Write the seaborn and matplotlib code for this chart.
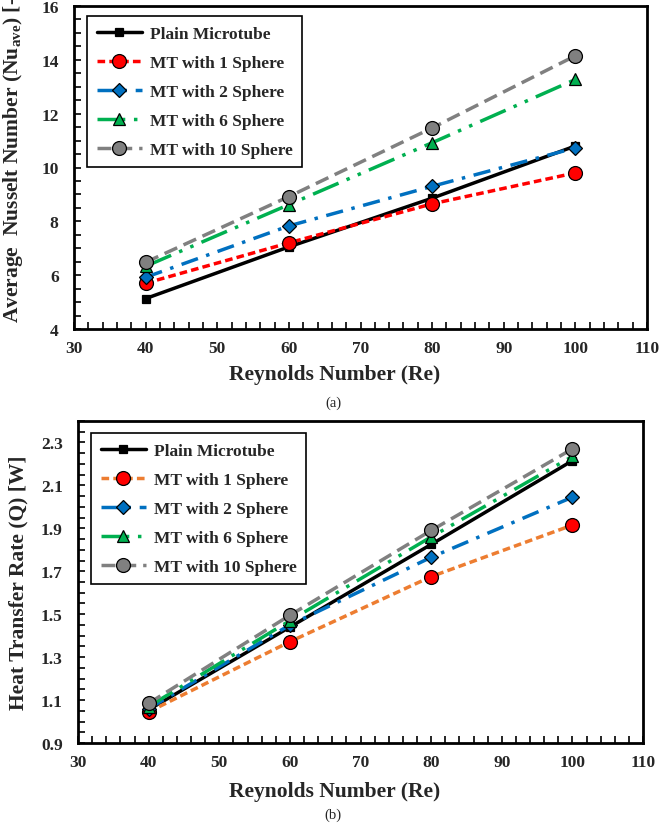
import matplotlib
matplotlib.use("Agg")
import matplotlib.pyplot as plt
from matplotlib.ticker import MultipleLocator
import seaborn as sns
import pandas as pd

sns.set_style("white")
plt.rcParams['font.family'] = ['Liberation Serif', 'DejaVu Serif']
plt.rcParams['mathtext.fontset'] = 'custom'
plt.rcParams['mathtext.rm'] = 'Liberation Serif'
plt.rcParams['mathtext.bf'] = 'Liberation Serif:bold'

reynolds = [40, 60, 80, 100]
series_names = ["Plain Microtube", "MT with 1 Sphere", "MT with 2 Sphere",
                "MT with 6 Sphere", "MT with 10 Sphere"]

nu_plain = [5.13, 7.05, 8.86, 10.80]
nu_1sph = [5.70, 7.20, 8.65, 9.80]
nu_2sph = [5.92, 7.83, 9.30, 10.73]
nu_6sph = [6.33, 8.62, 10.92, 13.27]
nu_10sph = [6.48, 8.92, 11.47, 14.15]

q_plain = [1.055, 1.440, 1.825, 2.215]
q_1sph = [1.045, 1.372, 1.675, 1.915]
q_2sph = [1.060, 1.450, 1.765, 2.045]
q_6sph = [1.070, 1.470, 1.860, 2.235]
q_10sph = [1.085, 1.495, 1.890, 2.270]

x_ticks = [30, 40, 50, 60, 70, 80, 90, 100, 110]
nu_ticks = [4, 6, 8, 10, 12, 14, 16]
q_ticks = [0.9, 1.1, 1.3, 1.5, 1.7, 1.9, 2.1, 2.3]

styles_a = [
    dict(color="black", linestyle="-", marker="s", markersize=5.5,
         markerfacecolor="black", linewidth=2.5),
    dict(color="#FF0000", linestyle=(0, (2.2, 1.2)), marker="o", markersize=10,
         markerfacecolor="#FF0000", linewidth=2.5),
    dict(color="#0070C0", linestyle=(0, (5, 2.5, 1, 2.5)), marker="D", markersize=7,
         markerfacecolor="#0070C0", linewidth=2.5),
    dict(color="#00B050", linestyle=(0, (8, 2.5, 1, 2.5, 1, 2.5)), marker="^", markersize=9,
         markerfacecolor="#00B050", linewidth=2.5),
    dict(color="#808080", linestyle=(0, (4, 2)), marker="o", markersize=10,
         markerfacecolor="#808080", linewidth=2.5),
]
styles_b = [dict(s) for s in styles_a]
styles_b[1]["color"] = "#ED7D31"

fig = plt.figure(figsize=(6.6, 8.28), dpi=100)
ax1 = fig.add_axes([74/660, 1-330/828, 573/660, 323/828])
ax2 = fig.add_axes([78/660, 1-744/828, 565/660, 322/828])

LABEL_FS = 15.5

def draw(ax, ys, styles, leg_anchor, xlabel_y):
    for name, y, st in zip(series_names, ys, styles):
        df = pd.DataFrame({"Re": reynolds, "val": y})
        sns.lineplot(data=df, x="Re", y="val", ax=ax, label=name,
                     markeredgecolor="black", markeredgewidth=0.9, **st)
    ax.set_xlim(30, 110)
    ax.set_xticks(x_ticks)
    ax.xaxis.set_minor_locator(MultipleLocator(2))
    for sp in ax.spines.values():
        sp.set_color("black")
        sp.set_linewidth(2)
    ax.tick_params(which="both", direction="in", length=5, width=1.2,
                   color="black", bottom=True, left=True, top=False, right=False)
    ax.tick_params(axis="x", which="major", pad=8, labelsize=12.5)
    ax.tick_params(axis="y", which="major", pad=11, labelsize=12.5)
    ax.set_xlabel("Reynolds Number (Re)", fontsize=LABEL_FS, fontweight="bold")
    ax.xaxis.set_label_coords(0.455, xlabel_y)
    leg = ax.legend(loc="upper left", bbox_to_anchor=leg_anchor, frameon=True,
                    fancybox=False, edgecolor="black", framealpha=1,
                    prop=dict(family="Liberation Serif", weight="bold", size=12.5),
                    handlelength=2.6, labelspacing=0.74, borderpad=0.55,
                    handletextpad=0.45, borderaxespad=0)
    leg.get_frame().set_linewidth(1.2)

draw(ax1, [nu_plain, nu_1sph, nu_2sph, nu_6sph, nu_10sph], styles_a,
     (13/573, 1 - 10/323), -35/323)
ax1.set_ylim(4, 16)
ax1.set_yticks(nu_ticks)
ax1.yaxis.set_minor_locator(MultipleLocator(0.5))
for lbl in ax1.get_xticklabels() + ax1.get_yticklabels():
    lbl.set_fontweight("bold")
ax1.set_ylabel(r"Average  Nusselt Number (Nu$_{\mathbf{ave}}$) [-]",
               fontsize=LABEL_FS, fontweight="bold")
ax1.yaxis.label.set_horizontalalignment("left")
ax1.yaxis.set_label_coords(-0.086, 7/323)

draw(ax2, [q_plain, q_1sph, q_2sph, q_6sph, q_10sph], styles_b,
     (13/565, 1 - 12/322), -38/322)
ax2.set_ylim(0.9, 2.4)
ax2.set_yticks(q_ticks)
ax2.set_yticklabels([f"{t:.1f}" for t in q_ticks])
ax2.yaxis.set_minor_locator(MultipleLocator(0.05))
for lbl in ax2.get_xticklabels() + ax2.get_yticklabels():
    lbl.set_fontweight("bold")
ax2.set_ylabel("Heat Transfer Rate (Q) [W]", fontsize=LABEL_FS, fontweight="bold")
ax2.yaxis.set_label_coords(-0.088, 0.5)

fig.text(333/660, 1-403/828, "(a)", ha="center", va="center", fontsize=10.5)
fig.text(333/660, 1-815/828, "(b)", ha="center", va="center", fontsize=10.5)

fig.savefig("out.png", dpi=100)
